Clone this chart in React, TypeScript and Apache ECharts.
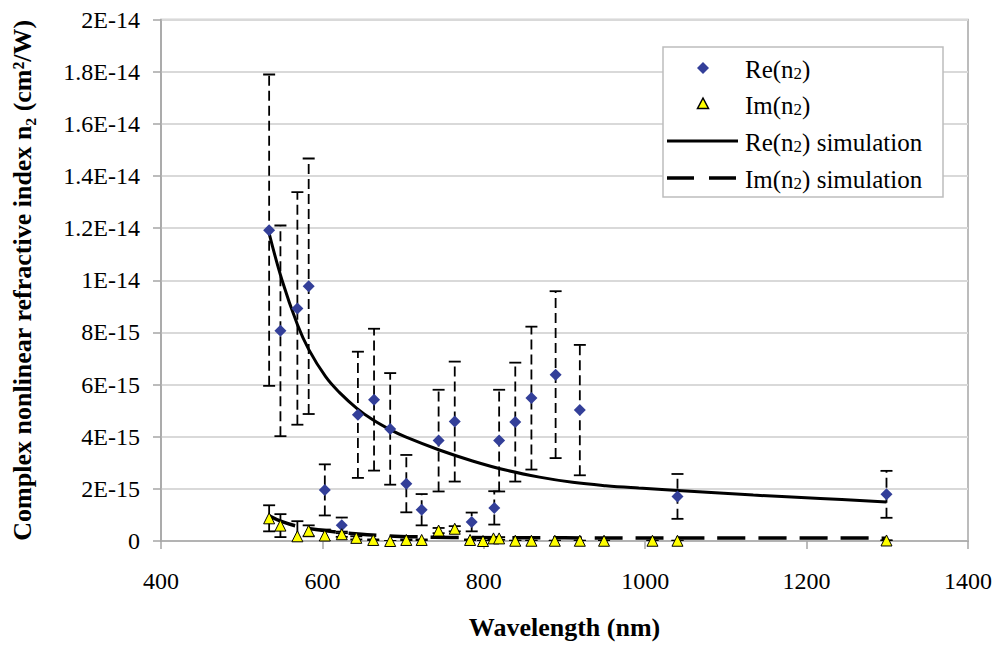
import React, { useEffect, useRef } from 'react';
import * as echarts from 'echarts';

// Tick labels
const xTickLabels = ['400', '600', '800', '1000', '1200', '1400'];
const yTickLabels = ['0', '2E-15', '4E-15', '6E-15', '8E-15', '1E-14', '1.2E-14', '1.4E-14', '1.6E-14', '1.8E-14', '2E-14'];

// Re(n2) measurements (values in units of 1E-15 cm^2/W)
const reWavelengths = [534, 548, 569, 583, 603, 624, 644, 664, 684, 704, 723, 744, 764, 785, 813, 819, 839, 859, 889, 919, 1040, 1299];
const reValues = [11.92, 8.06, 8.92, 9.77, 1.96, 0.6, 4.84, 5.42, 4.3, 2.2, 1.2, 3.85, 4.58, 0.73, 1.27, 3.85, 4.56, 5.48, 6.38, 5.02, 1.71, 1.79];
const reErrors = [5.97, 4.04, 4.46, 4.9, 0.98, 0.3, 2.42, 2.72, 2.14, 1.1, 0.6, 1.95, 2.3, 0.36, 0.64, 1.95, 2.28, 2.74, 3.2, 2.5, 0.86, 0.9];

// Im(n2) measurements (units of 1E-15)
const imWavelengths = [534, 548, 569, 583, 603, 624, 642, 663, 684, 704, 723, 744, 764, 783, 799, 812, 819, 839, 859, 888, 919, 949, 1009, 1040, 1299];
const imValues = [0.87, 0.59, 0.18, 0.39, 0.21, 0.26, 0.12, 0.04, 0.0, 0.04, 0.04, 0.4, 0.47, 0.04, 0.0, 0.1, 0.1, 0.01, 0.01, 0.01, 0.01, 0.01, 0.01, 0.01, 0.02];
const imErrors = [0.5, 0.44, 0.58, 0.21, 0.23, 0.1, 0.06, 0.02, 0, 0.02, 0.02, 0.1, 0.1, 0.02, 0, 0.05, 0.05, 0, 0, 0, 0, 0, 0, 0, 0];

// Simulations (units of 1E-15)
const reSimWavelengths = [534, 550, 569, 583, 604, 621, 643, 662, 684, 703, 744, 786, 827, 869, 910, 951, 992, 1040, 1134, 1217, 1299];
const reSimValues = [11.8, 10.0, 8.3, 7.35, 6.3, 5.7, 5.08, 4.66, 4.27, 3.99, 3.5, 3.07, 2.72, 2.45, 2.25, 2.12, 2.03, 1.94, 1.76, 1.63, 1.5];
const imSimWavelengths = [534, 550, 571, 592, 612, 633, 674, 716, 760, 900, 1100, 1299];
const imSimValues = [0.97, 0.74, 0.55, 0.44, 0.36, 0.3, 0.21, 0.16, 0.135, 0.12, 0.115, 0.11];

// Legend entries
const legendNames = ['Re(n2)', 'Im(n2)', 'Re(n2) simulation', 'Im(n2) simulation'];

const FONT = 'Liberation Serif';

const richLabel = (name: string) => {
  const i = name.indexOf('n2');
  const before = name.slice(0, i + 1);
  const after = name.slice(i + 2);
  return `{t|${before}}{s|2}{t|${after}}`;
};

export default function App() {
  const ref = useRef<HTMLDivElement>(null);
  useEffect(() => {
    if (!ref.current) return;
    const chart = echarts.init(ref.current, undefined, { renderer: 'svg' });

    const reErr = reWavelengths.map((w, i) => [w, reValues[i] - reErrors[i], reValues[i] + reErrors[i]]);
    const imErr = imWavelengths.map((w, i) => [w, imValues[i] - imErrors[i], imValues[i] + imErrors[i]]);

    const errRender = (dashed: boolean) => (params: any, api: any) => {
      const x = api.value(0);
      const lo = api.coord([x, api.value(1)]);
      const hi = api.coord([x, api.value(2)]);
      const cap = 6;
      return {
        type: 'group',
        children: [
          { type: 'line', shape: { x1: lo[0], y1: lo[1], x2: hi[0], y2: hi[1] }, style: { stroke: '#000', lineWidth: 1.8, lineDash: dashed ? [10, 5] : undefined } },
          { type: 'line', shape: { x1: hi[0] - cap, y1: hi[1], x2: hi[0] + cap, y2: hi[1] }, style: { stroke: '#000', lineWidth: 1.8 } },
          { type: 'line', shape: { x1: lo[0] - cap, y1: lo[1], x2: lo[0] + cap, y2: lo[1] }, style: { stroke: '#000', lineWidth: 1.8 } },
        ],
      };
    };

    const rich = {
      t: { fontSize: 25, fontFamily: FONT, fill: '#000', color: '#000', lineHeight: 28, verticalAlign: 'bottom' },
      s: { fontSize: 17, fontFamily: FONT, fill: '#000', color: '#000', lineHeight: 19, verticalAlign: 'bottom', padding: [10, 0, 0, 0] },
    };
    const rowY = [68, 104, 141, 178];
    const iconL = 667, iconR = 738, iconC = 703, textX = 745;

    const legendGraphics: any[] = [
      { type: 'rect', z: 5, shape: { x: 663, y: 47, width: 280, height: 150 }, style: { fill: '#fff', stroke: '#bdbdbd', lineWidth: 1.5 } },
      { type: 'polygon', z: 6, shape: { points: [[iconC, rowY[0] - 6], [iconC + 6, rowY[0]], [iconC, rowY[0] + 6], [iconC - 6, rowY[0]]] }, style: { fill: '#333f99' } },
      { type: 'polygon', z: 6, shape: { points: [[iconC, rowY[1] - 6], [iconC + 5.5, rowY[1] + 4.5], [iconC - 5.5, rowY[1] + 4.5]] }, style: { fill: '#ffff00', stroke: '#000', lineWidth: 1.5 } },
      { type: 'line', z: 6, shape: { x1: iconL, y1: rowY[2], x2: iconR, y2: rowY[2] }, style: { stroke: '#000', lineWidth: 3 } },
      { type: 'line', z: 6, shape: { x1: iconL, y1: rowY[3], x2: iconR, y2: rowY[3] }, style: { stroke: '#000', lineWidth: 3.5, lineDash: [27, 15] } },
      ...legendNames.map((n, i) => ({
        type: 'text', z: 6, x: textX, y: rowY[i],
        style: { text: richLabel(n), rich, verticalAlign: 'middle', align: 'left', fill: '#000' },
      })),
    ];

    chart.setOption({
      animation: false,
      backgroundColor: '#fff',
      grid: { left: 161, right: 27, top: 19.5, bottom: 102.5, show: true, borderColor: '#a6a6a6', borderWidth: 1.5, backgroundColor: 'transparent' },
      xAxis: {
        type: 'value', min: 400, max: 1400, interval: 200,
        axisLine: { show: true, onZero: false, lineStyle: { color: '#a6a6a6', width: 1.5 } },
        axisTick: { show: true, length: 8, lineStyle: { color: '#a6a6a6', width: 1.5 } },
        splitLine: { show: false },
        axisLabel: { margin: 28, fontSize: 24, fontFamily: FONT, color: '#000', formatter: (v: number) => xTickLabels[Math.round((v - 400) / 200)] },
        name: 'Wavelength (nm)', nameLocation: 'middle', nameGap: 73,
        nameTextStyle: { fontSize: 26, fontWeight: 'bold', fontFamily: FONT, color: '#000' },
      },
      yAxis: {
        type: 'value', min: 0, max: 20, interval: 2,
        axisLine: { show: true, lineStyle: { color: '#a6a6a6', width: 1.5 } },
        axisTick: { show: true, length: 8, lineStyle: { color: '#a6a6a6', width: 1.5 } },
        splitLine: { show: true, lineStyle: { color: '#d9d9d9', width: 2 } },
        axisLabel: { margin: 21, fontSize: 24, fontFamily: FONT, color: '#000', formatter: (v: number) => yTickLabels[Math.round(v / 2)] },
        name: 'Complex nonlinear refractive index n₂ (cm²/W)', nameLocation: 'middle', nameGap: 126,
        nameTextStyle: { fontSize: 26, fontWeight: 'bold', fontFamily: FONT, color: '#000' },
      },
      legend: { show: false },
      graphic: legendGraphics,
      series: [
        { type: 'custom', name: 'reErr', data: reErr, encode: { x: 0, y: [1, 2] }, renderItem: errRender(true), clip: true, z: 1, silent: true },
        { type: 'custom', name: 'imErr', data: imErr, encode: { x: 0, y: [1, 2] }, renderItem: errRender(false), clip: true, z: 1, silent: true },
        {
          type: 'line', name: legendNames[2], data: reSimWavelengths.map((w, i) => [w, reSimValues[i]]),
          symbol: 'none', smooth: 0.4, lineStyle: { color: '#000', width: 3 }, itemStyle: { color: '#000' }, z: 2,
        },
        {
          type: 'line', name: legendNames[3], data: imSimWavelengths.map((w, i) => [w, imSimValues[i]]),
          symbol: 'none', smooth: 0.4, lineStyle: { color: '#000', width: 3.5, type: [28, 13] }, itemStyle: { color: '#000' }, z: 2,
        },
        {
          type: 'scatter', name: legendNames[0], data: reWavelengths.map((w, i) => [w, reValues[i]]),
          symbol: 'diamond', symbolSize: 12, itemStyle: { color: '#333f99', opacity: 1 }, z: 3,
        },
        {
          type: 'scatter', name: legendNames[1], data: imWavelengths.map((w, i) => [w, imValues[i]]),
          symbol: 'triangle', symbolSize: 11, itemStyle: { color: '#ffff00', borderColor: '#000', borderWidth: 1, opacity: 1 }, z: 3,
        },
      ],
    });
    return () => chart.dispose();
  }, []);
  return <div ref={ref} style={{ position: 'absolute', left: 0, top: 0, width: 995, height: 645 }} />;
}
